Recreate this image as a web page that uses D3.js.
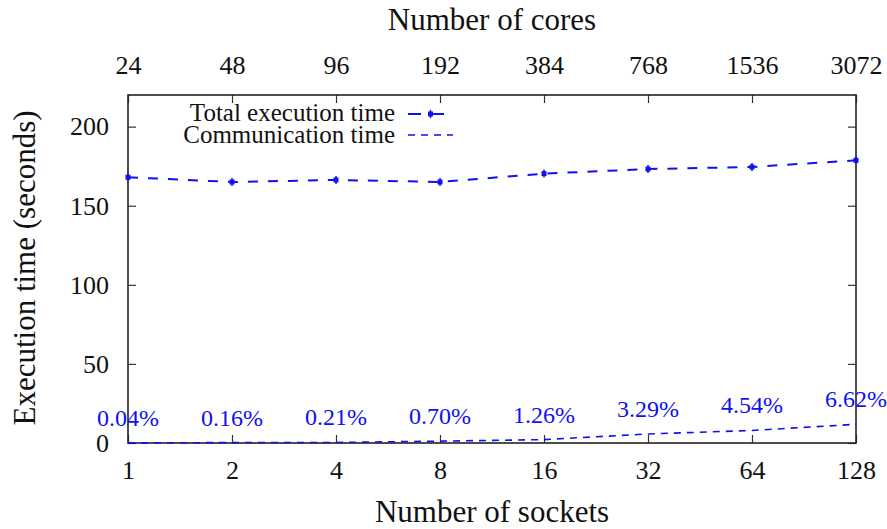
<!DOCTYPE html>
<html>
<head>
<meta charset="utf-8">
<script src="https://cdn.jsdelivr.net/npm/d3@7"></script>
<style>
  html, body { margin: 0; padding: 0; background: #fff; }
  svg { display: block; }
  svg text { font-family: "Liberation Serif", "DejaVu Serif", serif; fill: #111; }
</style>
</head>
<body>
<svg id="chart" width="887" height="529"></svg>
<script>
// ---- data ----
const sockets = [1, 2, 4, 8, 16, 32, 64, 128];
const cores = [24, 48, 96, 192, 384, 768, 1536, 3072];
const totalTime = [168.0, 165.0, 166.3, 165.0, 170.3, 173.2, 174.5, 178.7];
const commTime = [0.07, 0.26, 0.35, 1.16, 2.15, 5.70, 7.92, 11.83];
const commPct = ["0.04%", "0.16%", "0.21%", "0.70%", "1.26%", "3.29%", "4.54%", "6.62%"];
const yTicks = [0, 50, 100, 150, 200];
const seriesNames = ["Total execution time", "Communication time"];

// ---- layout ----
const FONT = "'Liberation Serif', 'DejaVu Serif', serif";
const svg = d3.select("#chart");
const L = 128, R = 856, T = 95, B = 443;
const blue = "#1010f0";

const x = d3.scaleLog().base(2).domain([1, 128]).range([L, R]);
const xTop = d3.scaleLog().base(2).domain([24, 3072]).range([L, R]);
const y = d3.scaleLinear().domain([0, 220]).range([B, T]);

// axes (inward ticks, mirrored)
const tl = 8;
const gBottom = svg.append("g").attr("transform", `translate(0,${B})`)
  .call(d3.axisBottom(x).tickValues(sockets).tickFormat(d3.format("d")).tickSizeInner(-tl).tickSizeOuter(0).tickPadding(0));
const gTop = svg.append("g").attr("transform", `translate(0,${T})`)
  .call(d3.axisTop(xTop).tickValues(cores).tickFormat(d3.format("d")).tickSizeInner(-tl).tickSizeOuter(0).tickPadding(0));
const gLeft = svg.append("g").attr("transform", `translate(${L},0)`)
  .call(d3.axisLeft(y).tickValues(yTicks).tickSizeInner(-tl).tickSizeOuter(0).tickPadding(0));
const gRight = svg.append("g").attr("transform", `translate(${R},0)`)
  .call(d3.axisRight(y).tickValues(yTicks).tickSizeInner(-tl).tickSizeOuter(0).tickFormat(""));

[gBottom, gTop, gLeft, gRight].forEach(g => {
  g.attr("font-family", null).attr("font-size", null);
  g.select(".domain").remove();
  g.selectAll(".tick line").attr("stroke", "#333").attr("stroke-width", 1.2);
  g.selectAll("text").style("font-family", FONT).style("fill", "#111");
});
gBottom.selectAll("text").style("font-size", "26px").attr("dy", null).attr("y", 479 - B);
gTop.selectAll("text").style("font-size", "26px").attr("dy", null).attr("y", 74 - T);
gLeft.selectAll("text").style("font-size", "26px").attr("x", 109 - L).attr("dy", "0.32em");

// border
svg.append("rect").attr("x", L).attr("y", T).attr("width", R - L).attr("height", B - T)
  .attr("fill", "none").attr("stroke", "#222").attr("stroke-width", 1.6);

// axis titles
function title(xp, yp, txt, rot) {
  const t = svg.append("text").attr("text-anchor", "middle")
    .style("font-family", FONT).style("font-size", "31px").text(txt);
  if (rot) t.attr("transform", `translate(${xp},${yp}) rotate(-90)`);
  else t.attr("x", xp).attr("y", yp);
}
title((L + R) / 2, 522, "Number of sockets");
title((L + R) / 2, 30, "Number of cores");
title(35, 268, "Execution time (seconds)", true);

// lines
const line = d3.line().x((d, i) => x(sockets[i])).y(d => y(d));
svg.append("path").datum(totalTime).attr("d", line).attr("fill", "none")
  .attr("stroke", blue).attr("stroke-width", 2).attr("stroke-dasharray", "10,10");
svg.append("path").datum(commTime).attr("d", line).attr("fill", "none")
  .attr("stroke", blue).attr("stroke-width", 1.6).attr("stroke-dasharray", "7,6");

// markers on total line
function marker(g, cx, cy) {
  g.append("rect").attr("x", cx - 2.5).attr("y", cy - 2.5).attr("width", 5).attr("height", 5).attr("fill", blue);
  g.append("line").attr("x1", cx).attr("x2", cx).attr("y1", cy - 4).attr("y2", cy + 4)
    .attr("stroke", blue).attr("stroke-width", 1.5);
}
const gm = svg.append("g");
totalTime.forEach((v, i) => marker(gm, x(sockets[i]), y(v)));

// percentage labels
svg.append("g").selectAll("text").data(commTime).join("text")
  .attr("x", (d, i) => x(sockets[i])).attr("y", d => y(d) - 17)
  .attr("text-anchor", "middle").style("font-family", FONT).style("font-size", "24px").style("fill", blue)
  .text((d, i) => commPct[i]);

// legend
const leg = svg.append("g");
const legY = [121, 143];
seriesNames.forEach((name, i) => {
  leg.append("text").attr("x", 395).attr("y", legY[i]).attr("text-anchor", "end")
    .style("font-family", FONT).style("font-size", "25px").text(name);
});
leg.append("line").attr("x1", 408).attr("x2", 453).attr("y1", 114).attr("y2", 114)
  .attr("stroke", blue).attr("stroke-width", 2).attr("stroke-dasharray", "13,10");
marker(leg, 430.5, 114);
leg.append("line").attr("x1", 408).attr("x2", 453).attr("y1", 135).attr("y2", 135)
  .attr("stroke", blue).attr("stroke-width", 1.6).attr("stroke-dasharray", "7,6");
</script>
</body>
</html>
